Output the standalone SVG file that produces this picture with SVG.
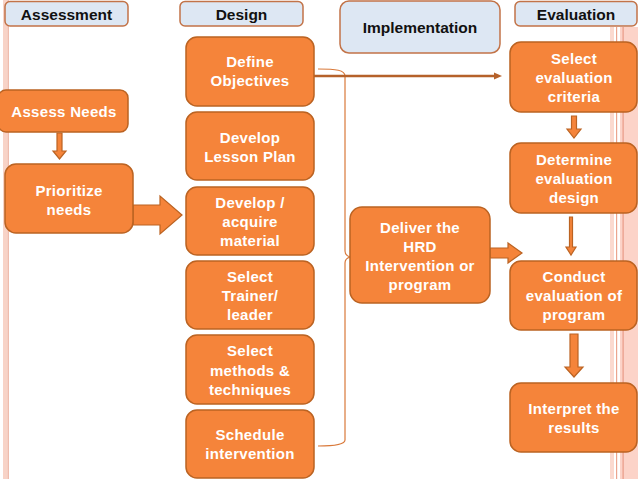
<svg xmlns="http://www.w3.org/2000/svg" width="638" height="479" viewBox="0 0 638 479">
<style>
.hdr{fill:#dde7f3;stroke:#c27348;stroke-width:1.5}
.ht{font-family:"Liberation Sans",Arial,sans-serif;font-weight:bold;font-size:15.5px;fill:#111;text-anchor:middle}
.box{fill:#f5843a;stroke:#bb6322;stroke-width:1.5}
.bt{font-family:"Liberation Sans",Arial,sans-serif;font-weight:bold;font-size:15px;letter-spacing:0.3px;fill:#fff;text-anchor:middle}
.arr{fill:#f5843a;stroke:#bb6322;stroke-width:1.2}
</style>
<rect width="638" height="479" fill="#fff"/>
<g id="decor">
<rect x="3" y="0" width="4" height="479" fill="#f8d3c7"/>
<rect x="7.5" y="0" width="1.2" height="479" fill="#e9a08a"/>
<rect x="610" y="27" width="4" height="452" fill="#fbd9cf"/>
<rect x="616" y="27" width="1.2" height="452" fill="#eba58f"/>
<rect x="620" y="27" width="18" height="452" fill="#fcd3c8"/>
<rect x="622.5" y="27" width="1.2" height="452" fill="#e99b86"/>
</g>
<g id="connectors">
<path d="M318,69 C336,69 345,70 345,76 L345,251 C345,254 347,256 350,257 C347,258 345,260 345,263 L345,440 C345,444 336,446 318,446" fill="none" stroke="#d9793a" stroke-width="1.2"/>
<line x1="350" y1="257" x2="374" y2="256" stroke="#e8843f" stroke-width="1.2"/>
<line x1="314" y1="76" x2="495" y2="76" stroke="#b5612a" stroke-width="2.5"/>
<path d="M494,72.5 L502,76 L494,79.5 Z" fill="#b5612a"/>
<path d="M57,133 L62,133 L62,151 L66,151 L59.5,159 L53,151 L57,151 Z" class="arr"/>
<path d="M133,205 L160,205 L160,196 L182,215 L160,234 L160,225 L133,225 Z" class="arr"/>
<path d="M490,248 L508,248 L508,243 L522,253 L508,263 L508,258 L490,258 Z" class="arr"/>
<path d="M571.5,116 L576.5,116 L576.5,129 L581,129 L574,138 L567,129 L571.5,129 Z" class="arr"/>
<path d="M569.5,217 L572.5,217 L572.5,247 L576,247 L571,255 L566,247 L569.5,247 Z" class="arr"/>
<path d="M570,334 L578,334 L578,367 L583,367 L574,377 L565,367 L570,367 Z" class="arr"/>
</g>
<g id="hdr-assessment"><rect class="hdr" x="5" y="1.5" width="123" height="24.5" rx="5"/><text class="ht" x="66.5" y="19.5">Assessment</text></g>
<g id="hdr-design"><rect class="hdr" x="180" y="1.5" width="123" height="24.5" rx="5"/><text class="ht" x="241.5" y="19.5">Design</text></g>
<g id="hdr-implementation"><rect class="hdr" x="340" y="1" width="160" height="52" rx="9"/><text class="ht" x="420" y="32.5">Implementation</text></g>
<g id="hdr-evaluation"><rect class="hdr" x="515" y="1.5" width="122" height="24.5" rx="5"/><text class="ht" x="576" y="19.5">Evaluation</text></g>
<g id="assess-needs"><rect class="box" x="-2" y="90" width="130" height="42" rx="8"/><text class="bt" x="64" y="117">Assess Needs</text></g>
<g id="prioritize"><rect class="box" x="5" y="164" width="128" height="69" rx="11"/><text class="bt" x="69" y="196">Prioritize</text><text class="bt" x="69" y="215">needs</text></g>
<g id="define"><rect class="box" x="186" y="37" width="128" height="69" rx="11"/><text class="bt" x="250" y="67">Define</text><text class="bt" x="250" y="86">Objectives</text></g>
<g id="lesson"><rect class="box" x="186" y="112" width="128" height="68" rx="11"/><text class="bt" x="250" y="143">Develop</text><text class="bt" x="250" y="162">Lesson Plan</text></g>
<g id="acquire"><rect class="box" x="186" y="187" width="128" height="68" rx="11"/><text class="bt" x="250" y="208">Develop /</text><text class="bt" x="250" y="227">acquire</text><text class="bt" x="250" y="246">material</text></g>
<g id="trainer"><rect class="box" x="186" y="261" width="128" height="68" rx="11"/><text class="bt" x="250" y="282">Select</text><text class="bt" x="250" y="301">Trainer/</text><text class="bt" x="250" y="320">leader</text></g>
<g id="methods"><rect class="box" x="186" y="335" width="128" height="69" rx="11"/><text class="bt" x="250" y="356">Select</text><text class="bt" x="250" y="376">methods &amp;</text><text class="bt" x="250" y="395">techniques</text></g>
<g id="schedule"><rect class="box" x="186" y="410" width="128" height="68" rx="11"/><text class="bt" x="250" y="440">Schedule</text><text class="bt" x="250" y="459">intervention</text></g>
<g id="deliver"><rect class="box" x="350" y="207" width="140" height="96" rx="12"/><text class="bt" x="420" y="233">Deliver the</text><text class="bt" x="420" y="252">HRD</text><text class="bt" x="420" y="271">Intervention or</text><text class="bt" x="420" y="290">program</text></g>
<g id="criteria"><rect class="box" x="510" y="42" width="127" height="70" rx="11"/><text class="bt" x="574" y="64">Select</text><text class="bt" x="574" y="83">evaluation</text><text class="bt" x="574" y="102">criteria</text></g>
<g id="design-eval"><rect class="box" x="510" y="143" width="127" height="70" rx="11"/><text class="bt" x="574" y="165">Determine</text><text class="bt" x="574" y="184">evaluation</text><text class="bt" x="574" y="203">design</text></g>
<g id="conduct"><rect class="box" x="510" y="261" width="127" height="69" rx="11"/><text class="bt" x="574" y="282">Conduct</text><text class="bt" x="574" y="301">evaluation of</text><text class="bt" x="574" y="320">program</text></g>
<g id="interpret"><rect class="box" x="510" y="383" width="127" height="69" rx="11"/><text class="bt" x="574" y="414">Interpret the</text><text class="bt" x="574" y="433">results</text></g>
</svg>
